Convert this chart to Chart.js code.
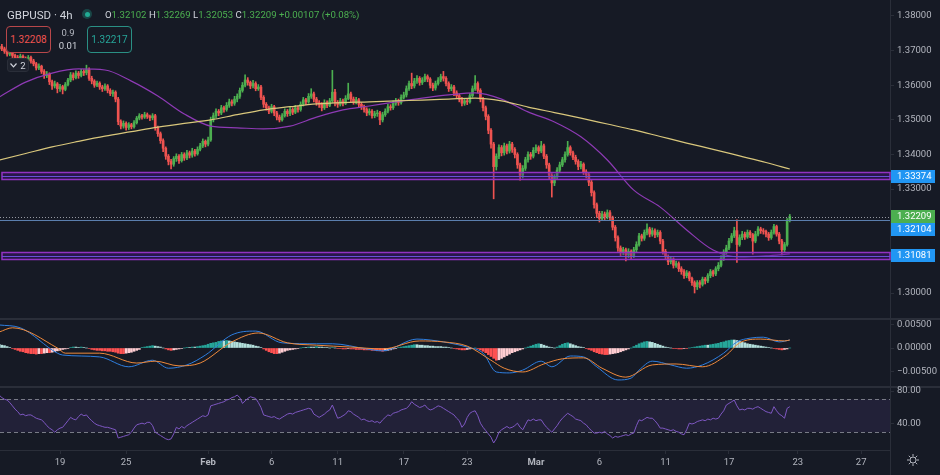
<!DOCTYPE html>
<html>
<head>
<meta charset="utf-8">
<script src="https://cdn.jsdelivr.net/npm/chart.js@4.4.1/dist/chart.umd.min.js"></script>
<style>
  html, body { margin: 0; padding: 0; background: #161a25; }
  #wrap { position: relative; width: 940px; height: 475px; background: #161a25; overflow: hidden; font-family: Roboto, sans-serif; }
  canvas { position: absolute; left: 0; }
  .sep { position: absolute; left: 0; width: 940px; height: 2px; background: #2a2e39; }
  .box { position: absolute; box-sizing: border-box; border-radius: 4px; font-size: 10px; display: flex; align-items: center; justify-content: center; background: #161a25; }
</style>
</head>
<body>
<div id="wrap">
  <div class="sep" style="top:318px"></div>
  <div class="sep" style="top:386px"></div>
  <canvas id="price" width="940" height="318" style="top:0"></canvas>
  <canvas id="macd" width="940" height="66" style="top:320px"></canvas>
  <canvas id="rsi" width="940" height="99" style="top:376px"></canvas>
  <div style="position:absolute;left:890px;top:450px;width:1px;height:25px;background:#2a2e39"></div>

  <div style="position:absolute;left:7px;top:8px;font-size:11.5px;color:#d1d4dc">GBPUSD · 4h</div>
  <div style="position:absolute;left:82px;top:9px;width:10px;height:10px;border-radius:50%;background:rgba(34,171,148,0.3)"></div>
  <div style="position:absolute;left:84.5px;top:11.5px;width:5px;height:5px;border-radius:50%;background:#22ab94"></div>
  <div style="position:absolute;left:105px;top:9px;font-size:9.6px;color:#d1d4dc;white-space:nowrap">O<span style="color:#4caf50">1.32102</span> H<span style="color:#4caf50">1.32269</span> L<span style="color:#4caf50">1.32053</span> C<span style="color:#4caf50">1.32209 +0.00107 (+0.08%)</span></div>
  <div class="box" style="left:6px;top:26px;width:45px;height:27px;border:1px solid #b8474a;color:#f05350">1.32208</div>
  <div style="position:absolute;left:56px;top:26px;width:24px;text-align:center;font-size:9.5px;color:#b2b5be;line-height:13px">0.9<br><span style="color:#d1d4dc">0.01</span></div>
  <div class="box" style="left:87px;top:26px;width:45px;height:27px;border:1px solid #2a8f84;color:#26a69a">1.32217</div>
  <div class="box" style="left:7px;top:58px;width:22px;height:14px;border-radius:3px;background:#1e222d;border:1px solid #2a2e39;color:#d1d4dc;font-size:9.5px">
    <svg width="7" height="5" style="margin-right:3px"><polyline points="0.5,0.5 3.5,3.8 6.5,0.5" fill="none" stroke="#d1d4dc" stroke-width="1.2"/></svg>2
  </div>
  <svg style="position:absolute;left:906px;top:453px" width="14" height="14" viewBox="0 0 14 14">
    <circle cx="7" cy="7" r="3" fill="none" stroke="#b2b5be" stroke-width="1"/>
    <path d="M7 1v2.5M7 10.5V13M1 7h2.5M10.5 7H13M2.8 2.8l1.8 1.8M9.4 9.4l1.8 1.8M2.8 11.2l1.8-1.8M9.4 4.6l1.8-1.8" stroke="#b2b5be" stroke-width="1"/>
  </svg>
</div>

<script>
// ---- data (GBPUSD 4h) ----
const firstOpen = 1.3705;
const closes = [
  1.3712,1.3705,1.3698,1.3690,1.3694,1.3686,1.3680,1.3676,1.3684,1.3678,
  1.3672,1.3680,1.3670,1.3662,1.3650,1.3655,1.3640,1.3628,1.3632,1.3610,
  1.3598,1.3604,1.3590,1.3596,1.3588,1.3602,1.3615,1.3630,1.3622,1.3635,
  1.3628,1.3640,1.3636,1.3645,1.3620,1.3612,1.3600,1.3606,1.3595,1.3590,
  1.3598,1.3585,1.3576,1.3580,1.3560,1.3495,1.3482,1.3490,1.3478,1.3486,
  1.3480,1.3492,1.3505,1.3512,1.3508,1.3515,1.3510,1.3506,1.3512,1.3478,
  1.3460,1.3440,1.3418,1.3395,1.3380,1.3372,1.3388,1.3395,1.3382,1.3400,
  1.3390,1.3405,1.3398,1.3410,1.3402,1.3415,1.3425,1.3438,1.3430,1.3442,
  1.3500,1.3512,1.3525,1.3520,1.3535,1.3530,1.3542,1.3552,1.3548,1.3560,
  1.3568,1.3585,1.3600,1.3615,1.3608,1.3598,1.3605,1.3590,1.3595,1.3565,
  1.3545,1.3535,1.3525,1.3538,1.3520,1.3508,1.3500,1.3512,1.3525,1.3518,
  1.3530,1.3522,1.3535,1.3530,1.3545,1.3558,1.3552,1.3568,1.3575,1.3560,
  1.3550,1.3545,1.3535,1.3550,1.3542,1.3555,1.3580,1.3550,1.3545,1.3555,
  1.3548,1.3562,1.3575,1.3560,1.3552,1.3558,1.3545,1.3538,1.3530,1.3520,
  1.3525,1.3512,1.3518,1.3520,1.3500,1.3515,1.3525,1.3538,1.3535,1.3548,
  1.3555,1.3550,1.3565,1.3572,1.3590,1.3605,1.3598,1.3612,1.3620,1.3608,
  1.3615,1.3625,1.3618,1.3600,1.3592,1.3605,1.3615,1.3625,1.3620,1.3605,
  1.3590,1.3595,1.3578,1.3570,1.3560,1.3548,1.3555,1.3552,1.3570,1.3590,
  1.3605,1.3585,1.3560,1.3535,1.3510,1.3470,1.3430,1.3365,1.3395,1.3420,
  1.3405,1.3425,1.3410,1.3430,1.3415,1.3400,1.3370,1.3340,1.3360,1.3385,
  1.3400,1.3395,1.3412,1.3420,1.3410,1.3425,1.3395,1.3370,1.3340,1.3318,
  1.3335,1.3355,1.3370,1.3385,1.3400,1.3420,1.3405,1.3392,1.3380,1.3365,
  1.3372,1.3350,1.3342,1.3320,1.3290,1.3255,1.3230,1.3215,1.3228,1.3220,
  1.3232,1.3218,1.3190,1.3160,1.3130,1.3118,1.3125,1.3110,1.3120,1.3108,
  1.3125,1.3140,1.3165,1.3158,1.3175,1.3185,1.3170,1.3180,1.3168,1.3175,
  1.3150,1.3120,1.3105,1.3090,1.3098,1.3080,1.3085,1.3070,1.3062,1.3050,
  1.3058,1.3042,1.3030,1.3018,1.3030,1.3025,1.3040,1.3035,1.3050,1.3062,
  1.3055,1.3070,1.3080,1.3100,1.3118,1.3130,1.3150,1.3165,1.3180,1.3140,
  1.3160,1.3170,1.3162,1.3175,1.3168,1.3150,1.3170,1.3185,1.3180,1.3178,
  1.3170,1.3160,1.3175,1.3192,1.3170,1.3150,1.3125,1.3140,1.3210,1.32209
];
const highs = [
  1.3722,1.3718,1.3710,1.3702,1.3700,1.3698,1.3690,1.3686,1.3690,1.3688,
  1.3682,1.3686,1.3684,1.3675,1.3666,1.3662,1.3658,1.3645,1.3640,1.3636,
  1.3615,1.3612,1.3608,1.3603,1.3600,1.3608,1.3620,1.3637,1.3636,1.3642,
  1.3640,1.3646,1.3645,1.3658,1.3650,1.3626,1.3616,1.3612,1.3610,1.3600,
  1.3604,1.3602,1.3590,1.3586,1.3584,1.3565,1.3500,1.3497,1.3494,1.3492,
  1.3490,1.3498,1.3510,1.3518,1.3516,1.3522,1.3520,1.3514,1.3518,1.3516,
  1.3482,1.3465,1.3445,1.3422,1.3400,1.3386,1.3394,1.3402,1.3400,1.3406,
  1.3405,1.3412,1.3410,1.3418,1.3415,1.3422,1.3432,1.3445,1.3442,1.3450,
  1.3508,1.3520,1.3532,1.3530,1.3542,1.3540,1.3550,1.3560,1.3558,1.3568,
  1.3575,1.3592,1.3608,1.3630,1.3622,1.3612,1.3614,1.3610,1.3602,1.3600,
  1.3570,1.3550,1.3540,1.3545,1.3542,1.3525,1.3514,1.3518,1.3532,1.3530,
  1.3538,1.3535,1.3542,1.3540,1.3552,1.3565,1.3562,1.3576,1.3590,1.3580,
  1.3565,1.3556,1.3550,1.3558,1.3555,1.3562,1.3643,1.3588,1.3556,1.3562,
  1.3560,1.3570,1.3606,1.3580,1.3566,1.3565,1.3562,1.3550,1.3543,1.3535,
  1.3532,1.3530,1.3525,1.3528,1.3525,1.3522,1.3532,1.3545,1.3544,1.3555,
  1.3562,1.3560,1.3572,1.3580,1.3598,1.3612,1.3635,1.3620,1.3628,1.3625,
  1.3622,1.3632,1.3630,1.3622,1.3606,1.3612,1.3622,1.3632,1.3640,1.3625,
  1.3610,1.3602,1.3600,1.3584,1.3575,1.3565,1.3562,1.3560,1.3576,1.3598,
  1.3628,1.3610,1.3590,1.3565,1.3540,1.3515,1.3475,1.3435,1.3402,1.3428,
  1.3426,1.3433,1.3430,1.3438,1.3435,1.3420,1.3405,1.3375,1.3368,1.3392,
  1.3408,1.3406,1.3420,1.3428,1.3425,1.3438,1.3430,1.3400,1.3375,1.3345,
  1.3342,1.3362,1.3378,1.3392,1.3408,1.3438,1.3425,1.3410,1.3398,1.3385,
  1.3380,1.3376,1.3356,1.3346,1.3325,1.3295,1.3260,1.3236,1.3236,1.3234,
  1.3240,1.3238,1.3222,1.3195,1.3165,1.3136,1.3132,1.3130,1.3128,1.3125,
  1.3132,1.3148,1.3172,1.3170,1.3182,1.3200,1.3190,1.3188,1.3185,1.3182,
  1.3180,1.3155,1.3126,1.3110,1.3106,1.3102,1.3092,1.3090,1.3076,1.3068,
  1.3065,1.3062,1.3046,1.3035,1.3036,1.3036,1.3046,1.3045,1.3056,1.3068,
  1.3066,1.3076,1.3088,1.3108,1.3125,1.3138,1.3158,1.3172,1.3190,1.3211,
  1.3168,1.3178,1.3176,1.3182,1.3180,1.3172,1.3178,1.3192,1.3190,1.3186,
  1.3182,1.3175,1.3182,1.3198,1.3196,1.3175,1.3155,1.3146,1.3215,1.32269
];
const lows = [
  1.3698,1.3700,1.3692,1.3684,1.3685,1.3680,1.3674,1.3668,1.3672,1.3672,
  1.3665,1.3668,1.3664,1.3656,1.3644,1.3645,1.3634,1.3620,1.3622,1.3602,
  1.3588,1.3592,1.3578,1.3582,1.3575,1.3584,1.3598,1.3610,1.3615,1.3618,
  1.3620,1.3624,1.3628,1.3630,1.3614,1.3604,1.3594,1.3596,1.3588,1.3582,
  1.3585,1.3578,1.3570,1.3568,1.3552,1.3486,1.3474,1.3476,1.3470,1.3472,
  1.3474,1.3476,1.3488,1.3500,1.3502,1.3504,1.3504,1.3498,1.3500,1.3470,
  1.3452,1.3432,1.3408,1.3386,1.3370,1.3358,1.3366,1.3380,1.3374,1.3378,
  1.3383,1.3385,1.3390,1.3392,1.3395,1.3398,1.3410,1.3420,1.3422,1.3425,
  1.3438,1.3494,1.3506,1.3512,1.3515,1.3522,1.3525,1.3536,1.3540,1.3542,
  1.3552,1.3562,1.3580,1.3595,1.3600,1.3590,1.3592,1.3584,1.3585,1.3558,
  1.3536,1.3528,1.3518,1.3520,1.3512,1.3500,1.3494,1.3496,1.3508,1.3510,
  1.3512,1.3515,1.3518,1.3522,1.3525,1.3540,1.3544,1.3548,1.3562,1.3552,
  1.3542,1.3536,1.3526,1.3530,1.3535,1.3538,1.3550,1.3540,1.3536,1.3540,
  1.3540,1.3544,1.3558,1.3552,1.3545,1.3546,1.3538,1.3530,1.3522,1.3512,
  1.3514,1.3505,1.3506,1.3510,1.3486,1.3494,1.3510,1.3520,1.3528,1.3530,
  1.3542,1.3542,1.3545,1.3560,1.3566,1.3585,1.3590,1.3592,1.3605,1.3600,
  1.3602,1.3610,1.3610,1.3592,1.3584,1.3586,1.3600,1.3610,1.3612,1.3598,
  1.3582,1.3584,1.3570,1.3562,1.3552,1.3540,1.3542,1.3544,1.3548,1.3565,
  1.3585,1.3578,1.3552,1.3526,1.3500,1.3460,1.3418,1.3272,1.3355,1.3388,
  1.3396,1.3398,1.3402,1.3404,1.3406,1.3390,1.3360,1.3326,1.3332,1.3354,
  1.3378,1.3386,1.3390,1.3405,1.3402,1.3405,1.3388,1.3360,1.3330,1.3277,
  1.3310,1.3328,1.3348,1.3365,1.3378,1.3395,1.3398,1.3385,1.3372,1.3356,
  1.3358,1.3342,1.3332,1.3310,1.3280,1.3245,1.3218,1.3205,1.3210,1.3212,
  1.3214,1.3210,1.3182,1.3150,1.3120,1.3108,1.3110,1.3093,1.3102,1.3098,
  1.3102,1.3118,1.3135,1.3150,1.3152,1.3168,1.3162,1.3164,1.3160,1.3162,
  1.3142,1.3112,1.3096,1.3082,1.3084,1.3072,1.3074,1.3062,1.3054,1.3042,
  1.3044,1.3035,1.3022,1.3000,1.3010,1.3015,1.3020,1.3026,1.3030,1.3044,
  1.3048,1.3050,1.3064,1.3075,1.3094,1.3112,1.3125,1.3145,1.3160,1.3088,
  1.3135,1.3154,1.3155,1.3158,1.3160,1.3112,1.3145,1.3165,1.3172,1.3170,
  1.3162,1.3152,1.3155,1.3170,1.3164,1.3142,1.3110,1.3118,1.3135,1.32053
];

// moving averages, read every 10 bars
const maIdx = [0,10,20,30,40,50,60,70,80,90,100,110,120,130,140,150,160,170,180,190,200,210,220,230,240,250,260,270,280,290,299];
const ma50 = [1.3566,1.3609,1.3635,1.3647,1.3644,1.3612,1.3569,1.3517,1.3482,1.3477,1.3474,1.3482,1.3508,1.3529,1.3540,1.3552,
  1.3563,1.3572,1.3578,1.3560,1.3523,1.3494,1.3451,1.3384,1.3297,1.3248,1.3182,1.3124,1.3104,1.3107,1.3113];
const ma200 = [1.3384,1.3403,1.3422,1.3438,1.3453,1.3466,1.3479,1.3490,1.3500,1.3515,1.3529,1.3538,1.3546,1.3550,1.3552,1.3555,
  1.3557,1.3560,1.3563,1.3555,1.3537,1.3521,1.3505,1.3488,1.3471,1.3452,1.3433,1.3415,1.3396,1.3377,1.3358];

// drawn levels
const levels = [1.33374, 1.32104, 1.31081];
const bands = [[1.3329, 1.3349], [1.3097, 1.3118]];
const lastPrice = 1.32209;

// MACD
const macdIdx = [0,8,22,24,38,49,58,64,71,78,88,97,107,120,126,139,145,158,163,170,177,183,188,193,198,205,209,216,221,226,234,239,242,247,254,260,266,274,279,284,289,295,299];
const macdVals = [0.0049,0.0043,-0.0011,-0.0015,-0.0019,-0.0040,-0.0026,-0.0043,-0.0036,-0.0015,0.0028,0.0036,0.0011,0.0009,0.0009,
  -0.0002,-0.0006,0.0019,0.0017,0.0011,0.0002,-0.0011,-0.0051,-0.0053,-0.0047,-0.0028,-0.0040,-0.0017,-0.0019,-0.0040,
  -0.0068,-0.0064,-0.0047,-0.0028,-0.0036,-0.0043,-0.0036,-0.0011,0.0013,0.0021,0.0023,0.0013,0.0017];
const sigIdx = [0,5,22,25,38,52,59,68,76,88,98,109,120,133,145,159,168,177,186,191,198,206,213,221,228,237,247,256,266,275,280,288,297,299];
const sigVals = [0.0034,0.0043,0.0000,-0.0011,-0.0011,-0.0032,-0.0028,-0.0038,-0.0032,0.0013,0.0032,0.0011,0.0006,0.0002,-0.0002,
  0.0015,0.0013,0.0004,-0.0026,-0.0043,-0.0051,-0.0034,-0.0023,-0.0021,-0.0043,-0.0062,-0.0036,-0.0034,-0.0040,-0.0015,
  0.0011,0.0019,0.0015,0.0017];
const hist = [
  0.0008,0.0006,0.0005,0.0003,0.0001,-0.0001,-0.0003,-0.0005,-0.0007,-0.0008,
  -0.0010,-0.0011,-0.0012,-0.0012,-0.0013,-0.0012,-0.0012,-0.0011,-0.0010,-0.0010,
  -0.0009,-0.0008,-0.0006,-0.0005,-0.0003,-0.0002,-0.0001,0.0001,0.0002,0.0002,
  0.0001,0.0002,0.0001,0.0000,-0.0001,-0.0003,-0.0004,-0.0005,-0.0005,-0.0006,
  -0.0006,-0.0007,-0.0007,-0.0008,-0.0009,-0.0011,-0.0012,-0.0012,-0.0011,-0.0010,
  -0.0009,-0.0007,-0.0005,-0.0003,0.0001,0.0002,0.0003,0.0004,0.0005,0.0004,
  0.0003,0.0002,0.0000,-0.0002,-0.0004,-0.0005,-0.0004,-0.0003,-0.0002,-0.0001,
  0.0000,0.0001,0.0001,0.0002,0.0002,0.0003,0.0004,0.0005,0.0006,0.0008,
  0.0010,0.0011,0.0012,0.0014,0.0015,0.0015,0.0016,0.0015,0.0014,0.0013,
  0.0012,0.0011,0.0010,0.0009,0.0008,0.0007,0.0006,0.0004,0.0003,0.0001,
  -0.0002,-0.0005,-0.0008,-0.0010,-0.0012,-0.0012,-0.0011,-0.0009,-0.0007,-0.0005,
  -0.0004,-0.0003,-0.0002,-0.0001,0.0000,0.0001,0.0001,0.0002,0.0002,0.0002,
  0.0003,0.0002,0.0002,0.0001,0.0001,0.0000,0.0001,0.0000,-0.0001,-0.0001,
  -0.0002,-0.0002,-0.0001,-0.0002,-0.0002,-0.0003,-0.0003,-0.0003,-0.0004,-0.0004,
  -0.0004,-0.0005,-0.0005,-0.0006,-0.0006,-0.0007,-0.0006,-0.0005,-0.0004,-0.0002,
  -0.0001,0.0001,0.0002,0.0003,0.0004,0.0005,0.0006,0.0007,0.0007,0.0006,
  0.0006,0.0005,0.0005,0.0004,0.0004,0.0003,0.0003,0.0003,0.0002,0.0002,
  0.0001,0.0000,-0.0001,-0.0002,-0.0003,-0.0004,-0.0004,-0.0003,-0.0002,-0.0001,
  0.0000,-0.0001,-0.0004,-0.0007,-0.0010,-0.0014,-0.0018,-0.0022,-0.0026,-0.0025,
  -0.0022,-0.0019,-0.0016,-0.0013,-0.0010,-0.0008,-0.0006,-0.0004,-0.0002,0.0000,
  0.0002,0.0004,0.0006,0.0008,0.0009,0.0008,0.0006,0.0004,0.0002,0.0001,
  0.0000,0.0002,0.0005,0.0008,0.0010,0.0011,0.0009,0.0007,0.0005,0.0003,
  0.0002,0.0001,-0.0001,-0.0003,-0.0005,-0.0008,-0.0010,-0.0012,-0.0013,-0.0014,
  -0.0014,-0.0013,-0.0012,-0.0011,-0.0010,-0.0008,-0.0006,-0.0004,-0.0002,0.0000,
  0.0003,0.0006,0.0009,0.0011,0.0013,0.0014,0.0013,0.0012,0.0010,0.0008,
  0.0006,0.0004,0.0002,0.0001,0.0000,-0.0001,-0.0001,-0.0002,-0.0002,-0.0001,
  -0.0001,0.0000,0.0001,0.0002,0.0003,0.0004,0.0005,0.0006,0.0006,0.0007,
  0.0008,0.0009,0.0010,0.0012,0.0013,0.0015,0.0016,0.0017,0.0017,0.0016,
  0.0014,0.0012,0.0011,0.0009,0.0008,0.0007,0.0006,0.0005,0.0004,0.0003,
  0.0002,0.0001,0.0000,-0.0001,-0.0002,-0.0003,-0.0004,-0.0003,-0.0002,0.0000
];

// RSI
const rsi = [
  75,72,70,69,66,62,58,55,51,52,50,
  51,51,49,47,46,45,42,38,35,33,
  30,33,35,36,40,44,48,46,45,49,
  52,50,51,47,44,41,39,38,37,36,
  36,35,34,33,23,24,25,26,27,30,
  35,39,40,41,40,42,42,38,30,28,
  26,24,22,21,22,28,36,34,37,35,
  38,40,42,44,46,48,50,49,51,62,
  63,64,65,66,67,69,70,72,73,75,
  72,65,68,71,73,72,71,66,60,51,
  50,49,48,49,47,46,48,50,52,53,
  52,54,55,56,57,58,59,58,52,50,
  48,50,52,55,57,63,55,47,48,50,
  52,56,55,52,50,48,45,46,44,43,
  44,42,43,41,45,48,51,50,53,54,
  55,57,58,59,62,67,64,62,60,61,
  63,59,57,58,60,62,61,59,57,55,
  53,51,47,44,36,40,48,53,55,56,
  50,41,36,32,28,24,17,22,30,33,
  35,37,35,36,38,41,36,33,39,45,
  44,46,44,45,45,40,36,33,30,34,
  38,43,47,50,53,51,49,46,45,44,
  41,39,35,32,29,29,30,29,31,28,
  26,23,25,24,25,26,27,26,28,29,
  38,45,44,46,48,47,47,44,40,35,
  35,34,33,32,33,31,30,28,27,33,
  41,40,41,43,44,45,44,46,45,47,
  46,47,52,56,63,65,67,69,62,57,
  58,57,59,59,58,60,61,59,57,55,
  54,53,61,56,52,50,47,59,61
];

// time axis
const tickIdx = [23,48,79,103,128,153,177,203,227,252,276,302,326];
const tickLabels = ['19','25','Feb','6','11','17','23','Mar','6','11','17','23','27'];
const priceTicks = [1.38,1.37,1.36,1.35,1.34,1.33,1.32,1.31,1.30];
const macdTicks = [0.005, 0, -0.005];
const rsiTicks = [80, 40];

// ---- styling ----
const upColor = '#4caf50';
const downColor = '#ef5350';
const axisText = '#b2b5be';
const lineColor = '#2a2e39';
const xMin = 0.3, xMax = 336.9;

Chart.defaults.font.family = 'Roboto';
Chart.defaults.font.size = 9.5;
Chart.defaults.animation = false;

const opens = closes.map((c, i) => i === 0 ? firstOpen : closes[i - 1]);
const candleColor = i => closes[i] >= opens[i] ? upColor : downColor;

function rightAxis(min, max, ticks, fmt) {
  return {
    position: 'right', min, max,
    afterBuildTicks: s => { s.ticks = ticks.map(v => ({ value: v })); },
    afterFit: s => { s.width = 50; s.paddingTop = 0; s.paddingBottom = 0; },
    ticks: { color: axisText, padding: 3, callback: fmt },
    grid: { drawOnChartArea: false, color: lineColor, tickLength: 4 },
    border: { display: true, color: lineColor }
  };
}
const hiddenX = { type: 'linear', min: xMin, max: xMax, display: false, offset: false, grid: { offset: false } };
const baseOpts = { responsive: false, devicePixelRatio: 1, layout: { padding: 0 },
  plugins: { legend: { display: false }, tooltip: { enabled: false } } };

// ---- price pane ----
const levelPlugin = {
  id: 'levels',
  afterDatasetsDraw(chart) {
    const { ctx, chartArea: a, scales: { y } } = chart;
    ctx.save();
    bands.forEach(([lo, hi]) => {
      const y1 = Math.round(y.getPixelForValue(hi)) + 0.5, y2 = Math.round(y.getPixelForValue(lo)) + 0.5;
      ctx.fillStyle = 'rgba(74,20,140,0.35)';
      ctx.fillRect(2, y1, a.right - 2, y2 - y1);
      ctx.strokeStyle = '#9332c2';
      ctx.lineWidth = 1.5;
      ctx.strokeRect(2, y1, a.right - 2, y2 - y1);
    });
    [levels[0], levels[2]].forEach(v => {
      const py = Math.round(y.getPixelForValue(v)) + 0.5;
      ctx.strokeStyle = '#6b4fd8'; ctx.lineWidth = 1;
      ctx.beginPath(); ctx.moveTo(2, py); ctx.lineTo(a.right, py); ctx.stroke();
    });
    let py = Math.round(y.getPixelForValue(levels[1])) + 0.5;
    ctx.strokeStyle = '#5b7fae'; ctx.lineWidth = 1;
    ctx.beginPath(); ctx.moveTo(a.left, py); ctx.lineTo(a.right, py); ctx.stroke();
    py = Math.round(y.getPixelForValue(lastPrice)) + 0.5;
    ctx.strokeStyle = '#9598a1'; ctx.setLineDash([1, 2]);
    ctx.beginPath(); ctx.moveTo(a.left, py); ctx.lineTo(a.right, py); ctx.stroke();
    ctx.restore();
  },
  afterDraw(chart) {
    const { ctx, chartArea: a, scales: { y } } = chart;
    const tags = [
      { v: levels[0], bg: '#2196f3' },
      { v: lastPrice, bg: '#4caf50' },
      { v: levels[1], bg: '#2196f3' },
      { v: levels[2], bg: '#2196f3' }
    ];
    let prev = -100;
    ctx.save();
    ctx.font = '9.5px Roboto';
    ctx.textBaseline = 'middle';
    tags.forEach(t => {
      let py = y.getPixelForValue(t.v);
      if (py < prev + 13) py = prev + 13;
      prev = py;
      ctx.fillStyle = t.bg;
      ctx.fillRect(a.right + 1, Math.round(py - 6.5), 44, 13);
      ctx.fillStyle = '#ffffff';
      ctx.fillText(t.v.toFixed(5), a.right + 7, py + 0.5);
    });
    ctx.restore();
  }
};

new Chart(document.getElementById('price'), {
  type: 'bar',
  data: {
    datasets: [
      { label: 'wick', data: closes.map((c, i) => ({ x: i, y: [lows[i], highs[i]] })),
        backgroundColor: c => candleColor(c.dataIndex), barThickness: 1, grouped: false, order: 3 },
      { label: 'body', data: closes.map((c, i) => ({ x: i, y: [opens[i], c] })),
        backgroundColor: c => candleColor(c.dataIndex), barThickness: 2, grouped: false, order: 2 },
      { type: 'line', label: 'MA 50', data: maIdx.map((x, k) => ({ x, y: ma50[k] })),
        borderColor: '#8e3ab5', borderWidth: 1.2, pointRadius: 0, cubicInterpolationMode: 'monotone', order: 1 },
      { type: 'line', label: 'MA 200', data: maIdx.map((x, k) => ({ x, y: ma200[k] })),
        borderColor: '#d9c77c', borderWidth: 1.2, pointRadius: 0, cubicInterpolationMode: 'monotone', order: 0 }
    ]
  },
  options: Object.assign({}, baseOpts, {
    scales: { x: hiddenX, y: rightAxis(1.29278, 1.38462, priceTicks, v => v.toFixed(5)) }
  }),
  plugins: [levelPlugin]
});

// ---- MACD pane ----
const histColor = i => {
  const v = hist[i], p = i > 0 ? hist[i - 1] : v;
  if (v >= 0) return p < v ? '#26a69a' : '#b2dfdb';
  return p < v ? '#ffcdd2' : '#ff5252';
};
new Chart(document.getElementById('macd'), {
  type: 'bar',
  data: {
    datasets: [
      { label: 'hist', data: hist.map((v, i) => ({ x: i, y: v })),
        backgroundColor: c => histColor(c.dataIndex), barThickness: 2, order: 2 },
      { type: 'line', label: 'MACD', data: macdIdx.map((x, k) => ({ x, y: macdVals[k] })),
        borderColor: '#2f7fe0', borderWidth: 1, pointRadius: 0, cubicInterpolationMode: 'monotone', order: 1 },
      { type: 'line', label: 'Signal', data: sigIdx.map((x, k) => ({ x, y: sigVals[k] })),
        borderColor: '#ef8a3c', borderWidth: 1, pointRadius: 0, cubicInterpolationMode: 'monotone', order: 0 }
    ]
  },
  options: Object.assign({}, baseOpts, {
    scales: { x: hiddenX, y: rightAxis(-0.008085, 0.005958, macdTicks,
      v => (v < 0 ? '\u2212' : '') + Math.abs(v).toFixed(5)) }
  })
});

// ---- RSI pane (canvas starts 12px above the pane so the top label is not cut) ----
const rsiBand = {
  id: 'rsiBand',
  beforeDatasetsDraw(chart) {
    const { ctx, chartArea: a, scales: { y } } = chart;
    const y70 = y.getPixelForValue(70), y30 = y.getPixelForValue(30);
    ctx.save();
    ctx.fillStyle = 'rgba(126,87,194,0.12)';
    ctx.fillRect(a.left, y70, a.right - a.left, y30 - y70);
    ctx.strokeStyle = '#787b86'; ctx.lineWidth = 1; ctx.setLineDash([4, 3]);
    [y70, y30].forEach(py => {
      ctx.beginPath(); ctx.moveTo(a.left, Math.round(py) + 0.5); ctx.lineTo(a.right, Math.round(py) + 0.5); ctx.stroke();
    });
    ctx.restore();
  }
};
new Chart(document.getElementById('rsi'), {
  type: 'line',
  data: {
    datasets: [{ label: 'RSI', data: rsi.map((v, i) => ({ x: i, y: v })),
      borderColor: '#7e57c2', borderWidth: 1, pointRadius: 0 }]
  },
  options: Object.assign({}, baseOpts, {
    layout: { padding: { top: 12, left: 0, right: 0, bottom: 0 } },
    scales: {
      x: {
        type: 'linear', min: xMin, max: xMax, position: 'bottom', offset: false,
        afterBuildTicks: s => { s.ticks = tickIdx.map(v => ({ value: v })); },
        afterFit: s => { s.height = 25; s.paddingLeft = 0; s.paddingRight = 0; },
        ticks: { color: axisText, maxRotation: 0, autoSkip: false, padding: 3,
          callback: (v, i) => tickLabels[i],
          font: c => ({ size: 9.5, weight: /[A-Za-z]/.test(tickLabels[c.index] || '') ? 'bold' : 'normal' }) },
        grid: { drawOnChartArea: false, color: lineColor, tickLength: 4 },
        border: { display: true, color: lineColor }
      },
      y: rightAxis(8.48, 83.64, rsiTicks, v => v.toFixed(2))
    }
  }),
  plugins: [rsiBand]
});
</script>
</body>
</html>
